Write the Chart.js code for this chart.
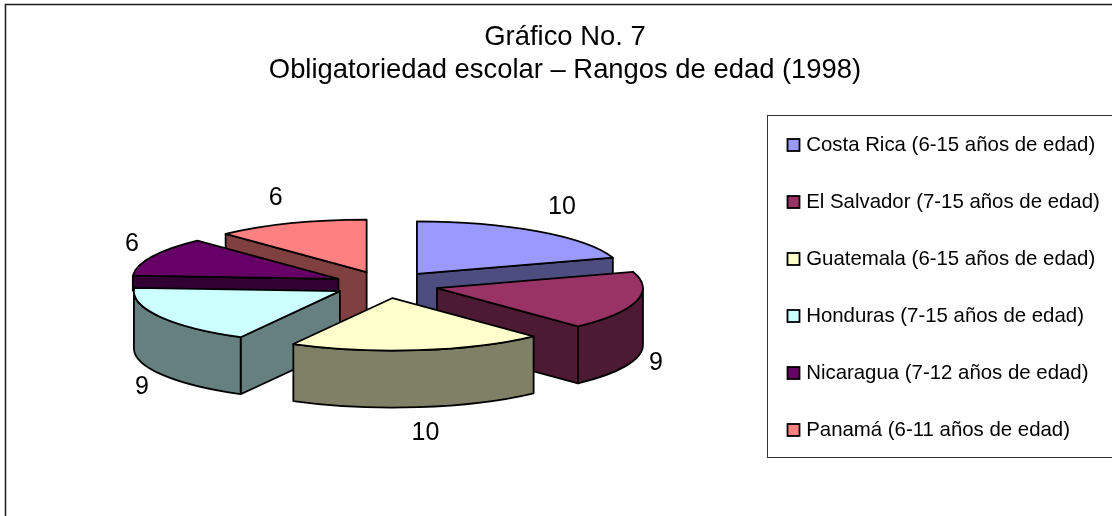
<!DOCTYPE html>
<html>
<head>
<meta charset="utf-8">
<style>html,body{margin:0;padding:0;background:#fff}canvas{display:block}</style>
<script src="https://cdn.jsdelivr.net/npm/chart.js@4/dist/chart.umd.js"></script>
</head>
<body>
<canvas id="c" width="1112" height="516"></canvas>
<script>
const categories = [
  'Costa Rica (6-15 años de edad)',
  'El Salvador (7-15 años de edad)',
  'Guatemala (6-15 años de edad)',
  'Honduras (7-15 años de edad)',
  'Nicaragua (7-12 años de edad)',
  'Panamá (6-11 años de edad)'
];
const values = [10, 9, 10, 9, 6, 6];
const titleLines = ['Gráfico No. 7', 'Obligatoriedad escolar – Rangos de edad (1998)'];
const topColors = ['#9999FF', '#993366', '#FFFFCC', '#CCFFFF', '#660066', '#FF8080'];
const wallColors = ['#4D4D80', '#4D1A33', '#808066', '#668080', '#330033', '#804040'];
// label placement relative to each slice's rim point (style, not data)
const labelNudges = [[24, -24.5], [19.5, 62], [7, 83], [-17.5, 70.5], [-20, -12.6], [-15, -25.5]];
// height of the cut faces of each slice (Nicaragua's is hidden below its visible band)
const faceDepths = [57, 57, 57, 57, 15, 57];

const FONT = '"Liberation Sans", Arial, sans-serif';
const PIE_CX = 386, PIE_CY = 284.7, RADIUS = 206, TILT = 0.255, EXPLODE = 52.6, DEPTH = 57;
const LEGEND_PAD = 36.6;

function swatch(color) {
  const cv = document.createElement('canvas');
  cv.width = 22; cv.height = 14;
  const g = cv.getContext('2d');
  g.fillStyle = color;
  g.fillRect(8.5, 1, 12, 12);
  g.lineWidth = 1.8;
  g.strokeStyle = '#000';
  g.strokeRect(8.5, 1, 12, 12);
  return cv;
}
const swatches = topColors.map(swatch);

const pie3d = {
  id: 'pie3d',
  afterLayout(chart) {
    const t = chart.titleBlock; t.left = 18; t.right = 1112;
    const l = chart.legend;
    l.left = 784 - LEGEND_PAD; l.right = 1112; l.top = 134.8 - LEGEND_PAD; l.bottom = 516;
  },
  beforeDraw(chart) {
    const ctx = chart.ctx;
    ctx.save();
    ctx.strokeStyle = '#1a1a1a';
    ctx.lineWidth = 1.5;
    ctx.strokeRect(5.5, 4.5, 1300, 1000);
    ctx.lineWidth = 1;
    ctx.strokeStyle = '#333';
    ctx.strokeRect(767.5, 115.5, 600, 342);
    ctx.restore();
  },
  beforeDatasetDraw(chart, args) {
    const ctx = chart.ctx;
    const arcs = args.meta.data.map((arc, i) => {
      const mid = (arc.startAngle + arc.endAngle) / 2;
      return { arc, i, mid };
    }).sort((a, b) => Math.sin(a.mid) - Math.sin(b.mid));
    ctx.save();
    ctx.lineWidth = 1.8;
    ctx.lineJoin = 'round';
    ctx.strokeStyle = '#000';
    for (const { arc, i, mid } of arcs) {
      const s = arc.startAngle, e = arc.endAngle, R = arc.outerRadius;
      const ax = PIE_CX + Math.cos(mid) * EXPLODE;
      const ay = PIE_CY + Math.sin(mid) * EXPLODE * TILT;
      const rx = a => ax + R * Math.cos(a);
      const ry = a => ay + R * TILT * Math.sin(a);
      const face = a => {
        ctx.beginPath();
        ctx.moveTo(ax, ay);
        ctx.lineTo(rx(a), ry(a));
        ctx.lineTo(rx(a), ry(a) + faceDepths[i]);
        ctx.lineTo(ax, ay + faceDepths[i]);
        ctx.closePath();
        ctx.fillStyle = wallColors[i];
        ctx.fill();
        ctx.stroke();
      };
      if (-Math.cos(s) > 1e-6) face(s);
      if (Math.cos(e) > 1e-6) face(e);
      const a0 = Math.max(s, 0), a1 = Math.min(e, Math.PI);
      if (a1 > a0) {
        ctx.beginPath();
        ctx.ellipse(ax, ay, R, R * TILT, 0, a0, a1);
        ctx.ellipse(ax, ay + DEPTH, R, R * TILT, 0, a1, a0, true);
        ctx.closePath();
        ctx.fillStyle = wallColors[i];
        ctx.fill();
        ctx.stroke();
      }
      ctx.save();
      ctx.translate(ax, ay);
      ctx.scale(1, TILT);
      ctx.translate(-arc.x, -arc.y);
      arc.draw(ctx);
      ctx.restore();
      ctx.beginPath();
      ctx.moveTo(ax, ay);
      ctx.ellipse(ax, ay, R, R * TILT, 0, s, e);
      ctx.closePath();
      ctx.stroke();
    }
    ctx.fillStyle = '#000';
    ctx.font = '25px ' + FONT;
    ctx.textAlign = 'center';
    ctx.textBaseline = 'middle';
    for (const { arc, i, mid } of arcs) {
      const ax = PIE_CX + Math.cos(mid) * EXPLODE;
      const ay = PIE_CY + Math.sin(mid) * EXPLODE * TILT;
      const x = ax + arc.outerRadius * Math.cos(mid) + labelNudges[i][0];
      const y = ay + arc.outerRadius * TILT * Math.sin(mid) + labelNudges[i][1];
      ctx.fillText(String(values[i]), x, y);
    }
    ctx.restore();
    return false;
  }
};

new Chart(document.getElementById('c'), {
  type: 'pie',
  data: {
    labels: categories,
    datasets: [{
      data: values,
      backgroundColor: topColors,
      borderWidth: 0,
      radius: RADIUS
    }]
  },
  plugins: [pie3d],
  options: {
    responsive: false,
    animation: false,
    plugins: {
      tooltip: { enabled: false },
      title: {
        display: true,
        text: titleLines,
        color: '#000',
        font: { family: FONT, size: 27.4, weight: 'normal', lineHeight: 1.22 },
        padding: { top: 20.6, bottom: 0 }
      },
      legend: {
        position: 'right',
        align: 'start',
        labels: {
          font: { family: FONT, size: 20.4 },
          color: '#000',
          boxWidth: 12,
          boxHeight: 12,
          usePointStyle: true,
          pointStyleWidth: 12,
          padding: LEGEND_PAD,
          generateLabels(chart) {
            return chart.data.labels.map((text, i) => ({
              text,
              pointStyle: swatches[i],
              fillStyle: topColors[i],
              strokeStyle: '#000',
              lineWidth: 1.8,
              hidden: false,
              index: i,
              fontColor: '#000'
            }));
          }
        }
      }
    }
  }
});
</script>
</body>
</html>
